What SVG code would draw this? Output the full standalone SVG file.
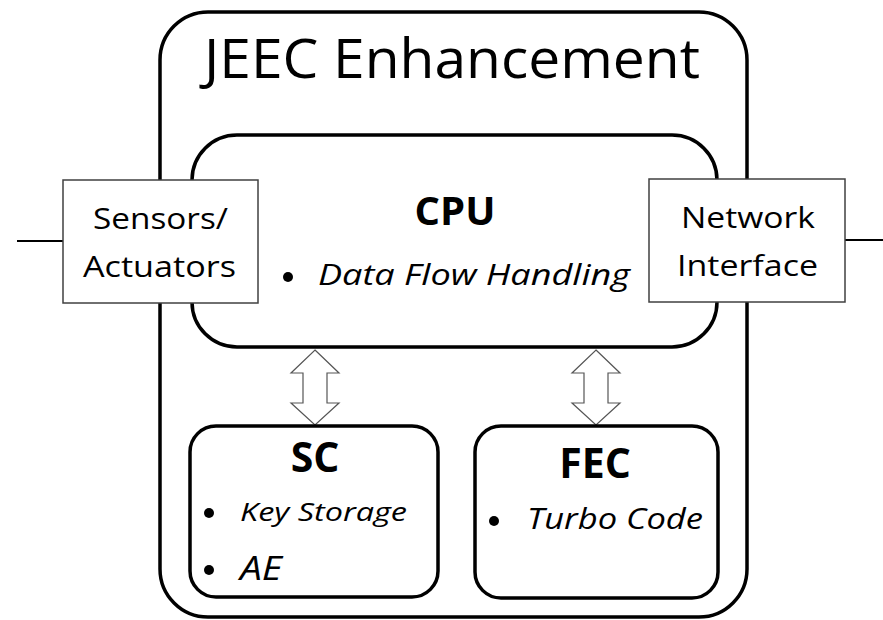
<svg xmlns="http://www.w3.org/2000/svg" width="883" height="620" viewBox="0 0 883 620">
<style>
.big{fill:none;stroke:#000;stroke-width:3.5}
.sub{fill:#fff;stroke:#000;stroke-width:3.5}
.io{fill:#fff;stroke:#404040;stroke-width:1.5}
.arr{fill:#fff;stroke:#555;stroke-width:1.2}
.wire{stroke:#000;stroke-width:2;fill:none}
text{font-family:"Open Sans","Liberation Sans",sans-serif;fill:#000}
.b{font-weight:bold}
.i{font-style:italic}
</style>
<rect width="883" height="620" fill="#fff"/>
<g id="outer">
<rect class="big" x="160" y="12" width="587" height="605" rx="48"/>
<text x="452" y="78" font-size="54" text-anchor="middle" textLength="496" lengthAdjust="spacingAndGlyphs">JEEC Enhancement</text>
</g>
<g id="cpu">
<rect class="big" x="192" y="135" width="525" height="212" rx="45"/>
<text class="b" x="455" y="225" font-size="40" text-anchor="middle">CPU</text>
<circle cx="288" cy="277" r="5"/>
<text class="i" x="318" y="285" font-size="29" textLength="312" lengthAdjust="spacingAndGlyphs">Data Flow Handling</text>
</g>
<g id="connectors">
<line class="wire" x1="17" y1="241" x2="63" y2="241"/>
<line class="wire" x1="845" y1="240" x2="883" y2="240"/>
<path class="arr" d="M315 350 L339 373 L327 373 L327 403 L339 403 L315 425 L291 403 L303 403 L303 373 L291 373 Z"/>
<path class="arr" d="M596 350 L620 373 L608 373 L608 403 L620 403 L596 425 L572 403 L584 403 L584 373 L572 373 Z"/>
</g>
<g id="sensors">
<rect class="io" x="63" y="180" width="195" height="123"/>
<text x="93" y="229" font-size="30" textLength="135" lengthAdjust="spacingAndGlyphs">Sensors/</text>
<text x="83" y="277" font-size="30" textLength="153" lengthAdjust="spacingAndGlyphs">Actuators</text>
</g>
<g id="network">
<rect class="io" x="649" y="179" width="196" height="123"/>
<text x="681" y="228" font-size="30" textLength="134" lengthAdjust="spacingAndGlyphs">Network</text>
<text x="677" y="276" font-size="30" textLength="141" lengthAdjust="spacingAndGlyphs">Interface</text>
</g>
<g id="sc">
<rect class="sub" x="190" y="426" width="248" height="171" rx="26"/>
<text class="b" x="315" y="472" font-size="41" text-anchor="middle">SC</text>
<circle cx="209" cy="513" r="5"/>
<text class="i" x="240" y="521" font-size="25" textLength="167" lengthAdjust="spacingAndGlyphs">Key Storage</text>
<circle cx="209" cy="570" r="5"/>
<text class="i" x="240" y="580" font-size="32" textLength="42" lengthAdjust="spacingAndGlyphs">AE</text>
</g>
<g id="fec">
<rect class="sub" x="475" y="426" width="243" height="172" rx="26"/>
<text class="b" x="595" y="478" font-size="41" text-anchor="middle">FEC</text>
<circle cx="494" cy="521" r="5"/>
<text class="i" x="527" y="529" font-size="29" textLength="176" lengthAdjust="spacingAndGlyphs">Turbo Code</text>
</g>
</svg>
